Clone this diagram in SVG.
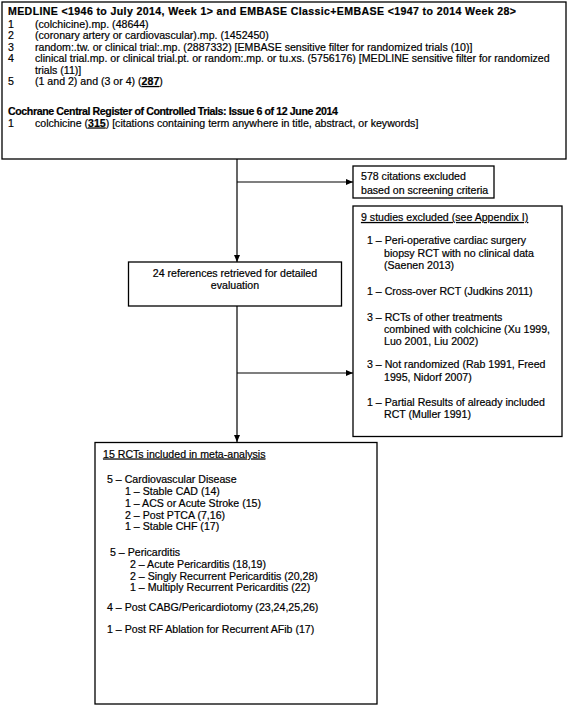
<svg xmlns="http://www.w3.org/2000/svg" width="568" height="707" viewBox="0 0 568 707">
<style>
text{font-family:"Liberation Sans",Arial,Helvetica,sans-serif;font-size:10.6px;fill:#000;stroke:#000;stroke-width:0.2px}
.b{font-weight:bold}
.u{text-decoration:underline}
.box{fill:#fff;stroke:#000;stroke-width:1.3}
.ln{fill:none;stroke:#000;stroke-width:1.2}
.c{text-anchor:middle}
</style>
<defs>
<marker id="ah" markerUnits="userSpaceOnUse" markerWidth="7" markerHeight="6" refX="7" refY="3" orient="auto">
<path d="M0,0 L7,3 L0,6 z" fill="#000"/>
</marker>
</defs>
<rect width="568" height="707" fill="#fff"/>

<g id="search">
<rect class="box" x="2" y="2" width="564" height="157"/>
<text class="b" x="8" y="15" textLength="508" lengthAdjust="spacing">MEDLINE &lt;1946 to July 2014, Week 1&gt; and EMBASE Classic+EMBASE &lt;1947 to 2014 Week 28&gt;</text>
<text x="8" y="27.5">1</text><text x="35" y="27.5">(colchicine).mp. (48644)</text>
<text x="8" y="39">2</text><text x="35" y="39">(coronary artery or cardiovascular).mp. (1452450)</text>
<text x="8" y="50.5">3</text><text x="35" y="50.5">random:.tw. or clinical trial:.mp. (2887332) [EMBASE sensitive filter for randomized trials (10)]</text>
<text x="8" y="62">4</text><text x="35" y="62">clinical trial.mp. or clinical trial.pt. or random:.mp. or tu.xs. (5756176) [MEDLINE sensitive filter for randomized</text>
<text x="35" y="73.5">trials (11)]</text>
<text x="8" y="85">5</text><text x="35" y="85">(1 and 2) and (3 or 4) (<tspan class="b u">287</tspan>)</text>
<text class="b" x="8" y="115" textLength="330" lengthAdjust="spacing">Cochrane Central Register of Controlled Trials: Issue 6 of 12 June 2014</text>
<text x="8" y="126.5">1</text><text x="35" y="126.5">colchicine (<tspan class="b u">315</tspan>) [citations containing term anywhere in title, abstract, or keywords]</text>
</g>

<g id="connectors">
<line class="ln" x1="237" y1="159" x2="237" y2="262" marker-end="url(#ah)"/>
<line class="ln" x1="237" y1="182" x2="353" y2="182" marker-end="url(#ah)"/>
<line class="ln" x1="237" y1="306" x2="237" y2="442" marker-end="url(#ah)"/>
<line class="ln" x1="237" y1="373" x2="353" y2="373" marker-end="url(#ah)"/>
</g>

<g id="excluded578">
<rect class="box" x="353" y="166" width="141" height="32"/>
<text x="361" y="179.5">578 citations excluded</text>
<text x="361" y="193.5">based on screening criteria</text>
</g>

<g id="excluded9">
<rect class="box" x="353" y="206" width="209" height="230.5"/>
<text class="u" x="361" y="221">9 studies excluded (see Appendix I)</text>
<text x="367" y="244">1 – Peri-operative cardiac surgery</text>
<text x="384" y="256.5">biopsy RCT with no clinical data</text>
<text x="384" y="268.5">(Saenen 2013)</text>
<text x="367" y="295">1 – Cross-over RCT (Judkins 2011)</text>
<text x="367" y="320.5">3 – RCTs of other treatments</text>
<text x="384" y="332.5">combined with colchicine (Xu 1999,</text>
<text x="384" y="344.5">Luo 2001, Liu 2002)</text>
<text x="367" y="368">3 – Not randomized (Rab 1991, Freed</text>
<text x="384" y="380.5">1995, Nidorf 2007)</text>
<text x="367" y="405.5">1 – Partial Results of already included</text>
<text x="384" y="417.5">RCT (Muller 1991)</text>
</g>

<g id="retrieved24">
<rect class="box" x="128.5" y="262" width="213" height="44"/>
<text class="c" x="235" y="277">24 references retrieved for detailed</text>
<text class="c" x="235" y="289">evaluation</text>
</g>

<g id="included15">
<rect class="box" x="95" y="442.5" width="282" height="261.5"/>
<text class="u" x="103" y="457.5">15 RCTs included in meta-analysis</text>
<text x="107" y="483">5 – Cardiovascular Disease</text>
<text x="125" y="495">1 – Stable CAD (14)</text>
<text x="125" y="507">1 – ACS or Acute Stroke (15)</text>
<text x="125" y="518.5">2 – Post PTCA (7,16)</text>
<text x="125" y="530">1 – Stable CHF (17)</text>
<text x="110" y="556">5 – Pericarditis</text>
<text x="130" y="568">2 – Acute Pericarditis (18,19)</text>
<text x="130" y="579.5">2 – Singly Recurrent Pericarditis (20,28)</text>
<text x="130" y="591">1 – Multiply Recurrent Pericarditis (22)</text>
<text x="107" y="611">4 – Post CABG/Pericardiotomy (23,24,25,26)</text>
<text x="107" y="633">1 – Post RF Ablation for Recurrent AFib (17)</text>
</g>
</svg>
